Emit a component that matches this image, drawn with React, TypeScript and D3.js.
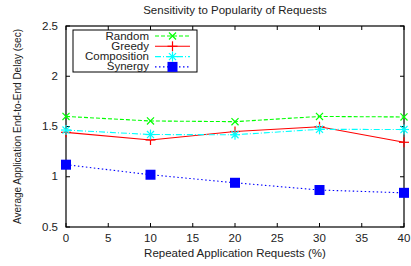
import * as d3 from "d3";
import React from "react";

const xValues = [0, 10, 20, 30, 40];
const xTicks = [0, 5, 10, 15, 20, 25, 30, 35, 40];
const yTicks = [0.5, 1, 1.5, 2, 2.5];
const randomVals = [1.6, 1.555, 1.548, 1.6, 1.595];
const greedyVals = [1.442, 1.366, 1.45, 1.498, 1.343];
const compositionVals = [1.465, 1.42, 1.418, 1.472, 1.47];
const synergyVals = [1.12, 1.02, 0.94, 0.868, 0.84];

type Series = {
  name: string;
  values: number[];
  color: string;
  dash: string;
  marker: "x" | "plus" | "star" | "square";
};

const series: Series[] = [
  { name: "Random", values: randomVals, color: "#00ff00", dash: "4,2", marker: "x" },
  { name: "Greedy", values: greedyVals, color: "#ff0000", dash: "", marker: "plus" },
  { name: "Composition", values: compositionVals, color: "#00ffff", dash: "6,2,1,2", marker: "star" },
  { name: "Synergy", values: synergyVals, color: "#0000ff", dash: "1.5,2.5", marker: "square" },
];

export default function App() {
  const ref = React.useRef<SVGSVGElement | null>(null);
  const width = 411;
  const height = 266;
  const margin = { top: 26, right: 7, bottom: 39, left: 66 };

  React.useEffect(() => {
    if (!ref.current) return;
    const svg = d3.select(ref.current);
    svg.selectAll("*").remove();
    const font = "Liberation Sans, Arial, sans-serif";

    const x = d3.scaleLinear().domain([0, 40]).range([margin.left, width - margin.right]);
    const y = d3.scaleLinear().domain([0.5, 2.5]).range([height - margin.bottom, margin.top]);

    const g = svg.append("g");

    // the source figure is stretched horizontally, so text is too
    const addText = (parent: any, tx: number, ty: number, str: string, anchor: string) =>
      parent.append("text")
        .attr("transform", `translate(${tx},${ty}) scale(1.13,1)`)
        .attr("text-anchor", anchor).attr("font-size", 10.2).attr("font-family", font)
        .attr("fill", "#222").text(str);

    // ticks (mirrored on all sides)
    const tl = 4;
    xTicks.forEach((t) => {
      g.append("line").attr("x1", x(t)).attr("x2", x(t))
        .attr("y1", y(0.5)).attr("y2", y(0.5) - tl).attr("stroke", "#000");
      g.append("line").attr("x1", x(t)).attr("x2", x(t))
        .attr("y1", y(2.5)).attr("y2", y(2.5) + tl).attr("stroke", "#000");
      addText(g, x(t), y(0.5) + 14.5, String(t), "middle");
    });
    yTicks.forEach((t) => {
      g.append("line").attr("x1", x(0)).attr("x2", x(0) + tl)
        .attr("y1", y(t)).attr("y2", y(t)).attr("stroke", "#000");
      g.append("line").attr("x1", x(40)).attr("x2", x(40) - tl)
        .attr("y1", y(t)).attr("y2", y(t)).attr("stroke", "#000");
      addText(g, x(0) - 8, y(t) + 3.5, String(t), "end");
    });

    // frame
    g.append("rect").attr("x", x(0)).attr("y", y(2.5))
      .attr("width", x(40) - x(0)).attr("height", y(0.5) - y(2.5))
      .attr("fill", "none").attr("stroke", "#000").attr("stroke-width", 1.2);

    const drawMarker = (sel: any, s: Series, cx: number, cy: number) => {
      const r = 5;
      if (s.marker === "square") {
        sel.append("rect").attr("x", cx - 5).attr("y", cy - 5).attr("width", 10).attr("height", 10)
          .attr("fill", s.color);
        return;
      }
      const angles = s.marker === "x" ? [45, 135] : s.marker === "plus" ? [0, 90] : [0, 45, 90, 135];
      angles.forEach((a) => {
        const rad = (a * Math.PI) / 180;
        sel.append("line")
          .attr("x1", cx - r * Math.cos(rad)).attr("y1", cy - r * Math.sin(rad))
          .attr("x2", cx + r * Math.cos(rad)).attr("y2", cy + r * Math.sin(rad))
          .attr("stroke", s.color).attr("stroke-width", 1.2);
      });
    };

    const line = d3.line<number>().x((_, i) => x(xValues[i])).y((d) => y(d));
    series.forEach((s) => {
      g.append("path").attr("d", line(s.values)).attr("fill", "none")
        .attr("stroke", s.color).attr("stroke-width", 1.1)
        .attr("stroke-dasharray", s.dash);
      const mg = g.append("g");
      s.values.forEach((v, i) => drawMarker(mg, s, x(xValues[i]), y(v)));
    });

    // legend
    const lg = g.append("g");
    lg.append("rect").attr("x", 73).attr("y", 30).attr("width", 124).attr("height", 42)
      .attr("fill", "#fff").attr("stroke", "#000").attr("stroke-width", 1);
    series.forEach((s, i) => {
      const ly = 36 + i * 10.3;
      addText(lg, 149, ly + 3.5, s.name, "end");
      lg.append("line").attr("x1", 155).attr("x2", 190).attr("y1", ly).attr("y2", ly)
        .attr("stroke", s.color).attr("stroke-width", 1.1).attr("stroke-dasharray", s.dash);
      drawMarker(lg, s, 172.5, ly);
    });

    // titles
    addText(g, (x(0) + x(40)) / 2, 14, "Sensitivity to Popularity of Requests", "middle");
    addText(g, (x(0) + x(40)) / 2, 257, "Repeated Application Requests (%)", "middle");
    g.append("text")
      .attr("transform", `translate(21, ${(y(0.5) + y(2.5)) / 2}) rotate(-90)`)
      .attr("text-anchor", "middle").attr("font-size", 10).attr("font-family", font).attr("fill", "#222")
      .text("Average Application End-to-End Delay (sec)");
  });

  return (
    <svg ref={ref} width={width} height={height}
      style={{ position: "absolute", left: 0, top: 0, background: "#fff" }} />
  );
}
